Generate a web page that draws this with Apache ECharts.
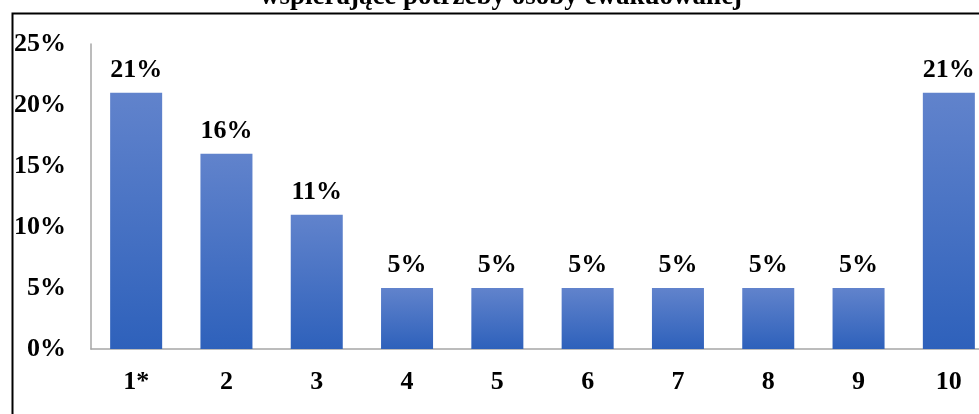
<!DOCTYPE html>
<html>
<head>
<meta charset="utf-8">
<script src="https://cdn.jsdelivr.net/npm/echarts@6/dist/echarts.min.js"></script>
<style>
  html, body { margin: 0; padding: 0; background: #fff; }
  #chart { width: 979px; height: 414px; }
</style>
</head>
<body>
<div id="chart"></div>
<script>
// Categories, shares (%) and axis ticks
const categories = ['1*', '2', '3', '4', '5', '6', '7', '8', '9', '10'];
const shares = [21, 16, 11, 5, 5, 5, 5, 5, 5, 21];
const yTicks = [0, 5, 10, 15, 20, 25];
const titleText = 'wspierające potrzeby osoby ewakuowanej';

const serif = '"Liberation Serif", "Times New Roman", serif';
const chart = echarts.init(document.getElementById('chart'), null, { renderer: 'canvas' });

chart.setOption({
  backgroundColor: '#ffffff',
  animation: false,
  title: {
    text: titleText,
    left: 496,
    textAlign: 'center',
    top: -21,
    textStyle: { fontFamily: serif, fontWeight: 'bold', fontSize: 27, color: '#000' }
  },
  graphic: [{
    type: 'rect',
    left: 10,
    top: 11,
    z: -1,
    shape: { x: 0, y: 0, width: 1200, height: 600 },
    style: { fill: 'none', stroke: '#000', lineWidth: 2 }
  }],
  grid: { left: 91, top: 44, width: 903, height: 305, containLabel: false, outerBoundsMode: 'none' },
  xAxis: {
    type: 'category',
    data: categories,
    axisLine: { show: true, lineStyle: { color: '#a6a6a6', width: 1.5 } },
    axisTick: { show: false },
    axisLabel: { margin: 20, fontFamily: serif, fontWeight: 'bold', fontSize: 26, color: '#000' }
  },
  yAxis: {
    type: 'value',
    min: yTicks[0],
    max: yTicks[yTicks.length - 1],
    interval: yTicks[1] - yTicks[0],
    axisLine: { show: true, lineStyle: { color: '#a6a6a6', width: 1.5 } },
    axisTick: { show: false },
    splitLine: { show: false },
    axisLabel: {
      margin: 25,
      formatter: '{value}%',
      fontFamily: serif, fontWeight: 'bold', fontSize: 26, color: '#000'
    }
  },
  series: [{
    type: 'bar',
    data: shares,
    barWidth: '57.6%',
    itemStyle: {
      color: new echarts.graphic.LinearGradient(0, 0, 0, 1, [
        { offset: 0, color: '#6183cc' },
        { offset: 1, color: '#2e61bb' }
      ])
    },
    label: {
      show: true,
      position: 'top',
      distance: 10,
      formatter: '{c}%',
      fontFamily: serif, fontWeight: 'bold', fontSize: 26, color: '#000'
    }
  }]
});
</script>
</body>
</html>
